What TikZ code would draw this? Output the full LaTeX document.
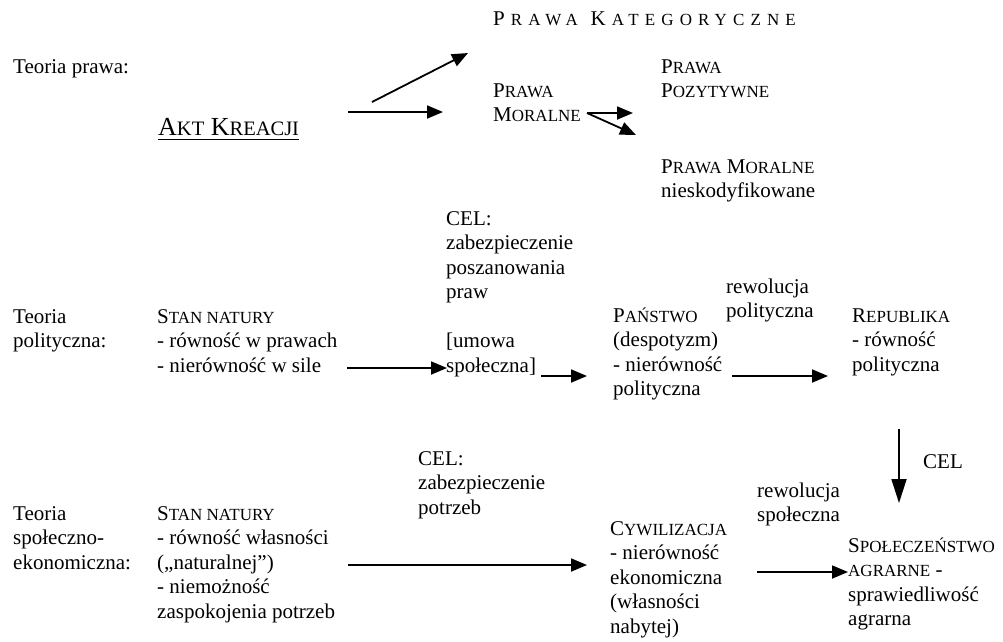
\documentclass[tikz,border=0pt]{standalone}
\usepackage{fontspec}
\setmainfont{Liberation Serif}
\usepackage{tikz}
\usetikzlibrary{arrows.meta}

% fake small caps: full capital + smaller capitals
\newcommand\kap[2]{#1{\fontsize{17}{24.5}\selectfont #2}}
\newcommand\kapsmall[1]{{\fontsize{17}{24.5}\selectfont #1}}

% multi-line nodes sit on the baseline of their LAST line
\tikzset{
  txt/.style={anchor=base west, inner sep=0pt, align=left},
  arr/.style={-{Triangle[length=16pt,width=13pt]}, line width=1.8pt},
}

\begin{document}
\begin{tikzpicture}[x=1pt, y=-1pt, font=\fontsize{21}{24.5}\selectfont]
\useasboundingbox (0,0) rectangle (1003,641);
% --- row 1: teoria prawa
\node[txt] (lab1) at (13,73) {Teoria prawa:};
\node[txt, font=\fontsize{26}{28}\selectfont] (akt) at (158,135) {A{\fontsize{20.5}{28}\selectfont KT} K{\fontsize{20.5}{28}\selectfont REACJI}};
\draw[line width=1.6pt] ([yshift=-4.5pt]akt.base west) -- ([yshift=-4.5pt]akt.base east);
\node[txt] (kat) at (493,25) {\addfontfeature{LetterSpace=36}P\kern6pt\kapsmall{RAWA}\ K\kern6pt\kapsmall{ATEGORYCZNE}};
\node[txt] (moral) at (493,121.5) {\kap{P}{RAWA}\\\kap{M}{ORALNE}};
\node[txt] (pozyt) at (661,97.5) {\kap{P}{RAWA}\\\kap{P}{OZYTYWNE}};
\node[txt] (niesk) at (661,197.5) {\kap{P}{RAWA} \kap{M}{ORALNE}\\nieskodyfikowane};
\coordinate (akt-a) at (372,102);
\coordinate (akt-b) at (348,112);
\coordinate (kat-in) at (468,53);
\coordinate (moral-in) at (443,112);
\coordinate (moral-out) at (587,113);
\coordinate (pozyt-in) at (633,113);
\coordinate (niesk-in) at (636,135);
\draw[arr] (akt-a) -- (kat-in);
\draw[arr] (akt-b) -- (moral-in);
\draw[arr] (moral-out) -- (pozyt-in);
\draw[arr] (moral-out) -- (niesk-in);
% --- row 2: teoria polityczna
\node[txt] (lab2) at (13,347.5) {Teoria\\polityczna:};
\node[txt] (stan1) at (157,372) {\kap{S}{TAN NATURY}\\- równość w prawach\\- nierówność w sile};
\node[txt] (cel1) at (446,372) {CEL:\\zabezpieczenie\\poszanowania\\praw\\[24.5pt][umowa\\społeczna]};
\node[txt] (panstwo) at (613,395.5) {\kap{P}{AŃSTWO}\\(despotyzm)\\- nierówność\\polityczna};
\node[txt] (rew1) at (726,317.5) {rewolucja\\polityczna};
\node[txt] (repub) at (852,371) {\kap{R}{EPUBLIKA}\\- równość\\polityczna};
\coordinate (stan1-out) at (347,368);
\coordinate (cel1-in) at (447,368);
\coordinate (cel1-out) at (541,376);
\coordinate (panstwo-in) at (587,376);
\coordinate (panstwo-out) at (732,376);
\coordinate (repub-in) at (828,376);
\draw[arr] (stan1-out) -- (cel1-in);
\draw[arr] (cel1-out) -- (panstwo-in);
\draw[arr] (panstwo-out) -- (repub-in);
% vertical link republika -> spoleczenstwo
\node[txt] (cel3) at (923,468) {CEL};
\coordinate (repub-down) at (899,429);
\coordinate (spol-top) at (899,503);
\draw[-{Triangle[length=24pt,width=15pt]}, line width=1.8pt] (repub-down) -- (spol-top);
% --- row 3: teoria spoleczno-ekonomiczna
\node[txt] (lab3) at (13,569) {Teoria\\społeczno-\\ekonomiczna:};
\node[txt] (stan2) at (157,618) {\kap{S}{TAN NATURY}\\- równość własności\\(„naturalnej”)\\- niemożność\\zaspokojenia potrzeb};
\node[txt] (cel2) at (418,514) {CEL:\\zabezpieczenie\\potrzeb};
\node[txt] (cywil) at (610,633) {\kap{C}{YWILIZACJA}\\- nierówność\\ekonomiczna\\(własności\\nabytej)};
\node[txt] (rew2) at (757,521.5) {rewolucja\\społeczna};
\node[txt] (spol) at (848,625.5) {\kap{S}{POŁECZEŃSTWO}\\\kapsmall{AGRARNE} -\\sprawiedliwość\\agrarna};
\coordinate (stan2-out) at (348,565);
\coordinate (cywil-in) at (587,565);
\coordinate (cywil-out) at (757,572);
\coordinate (spol-in) at (848,572);
\draw[arr] (stan2-out) -- (cywil-in);
\draw[arr] (cywil-out) -- (spol-in);
\end{tikzpicture}
\end{document}
